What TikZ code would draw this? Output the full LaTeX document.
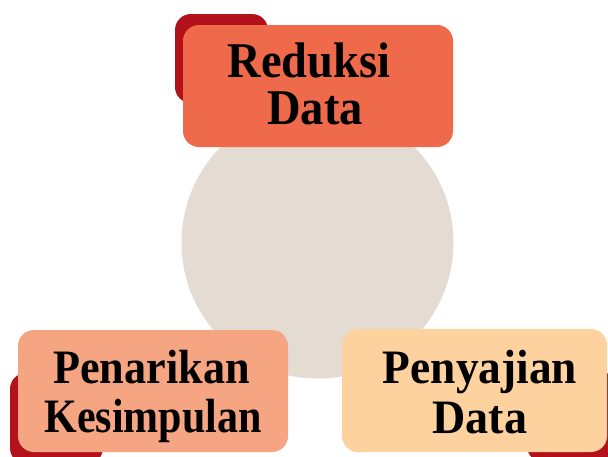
\documentclass[tikz,border=0pt]{standalone}
\usepackage{fontspec}
\usepackage{graphicx}
\setmainfont{Liberation Serif}
\definecolor{redtab}{HTML}{B3121B}
\definecolor{topbox}{HTML}{EF6A4B}
\definecolor{leftbox}{HTML}{F6A582}
\definecolor{rightbox}{HTML}{FDD29E}
\definecolor{hub}{HTML}{E4DBD2}
\begin{document}
\begin{tikzpicture}[x=1pt,y=-1pt,
  card/.style={rounded corners=16pt},
  toptext/.style={anchor=base,inner sep=0pt,font=\bfseries\fontsize{50}{50}\selectfont},
  bottext/.style={anchor=base,inner sep=0pt,font=\bfseries\fontsize{48}{48}\selectfont}]
\useasboundingbox (0,0) rectangle (608,456);
% hub circle
\fill[hub] (317.5,242.5) circle (136);
% red tabs
\fill[redtab,card] (175,14) rectangle (268,103);
\fill[redtab,card] (10,373) rectangle (103,464);
\fill[redtab,card] (527,372) rectangle (617,462);
% cards
\fill[topbox,card] (183,25) rectangle (453,147);
\fill[leftbox,card] (18,330) rectangle (288,452);
\fill[rightbox,card] (342,329) rectangle (607,452);
% texts
\node[toptext] (t1) at (309,77) {\scalebox{0.93}[1]{Reduksi}};
\node[toptext] (t2) at (315,124) {\scalebox{0.93}[1]{Data}};
\node[bottext] (l1) at (151.5,383) {\scalebox{0.92}[1]{Penarikan}};
\node[bottext] (l2) at (153,432) {\scalebox{0.875}[1]{Kesimpulan}};
\node[bottext] (r1) at (480,383) {\scalebox{0.945}[1]{Penyajian}};
\node[bottext] (r2) at (480,433) {\scalebox{0.96}[1]{Data}};
\end{tikzpicture}
\end{document}
